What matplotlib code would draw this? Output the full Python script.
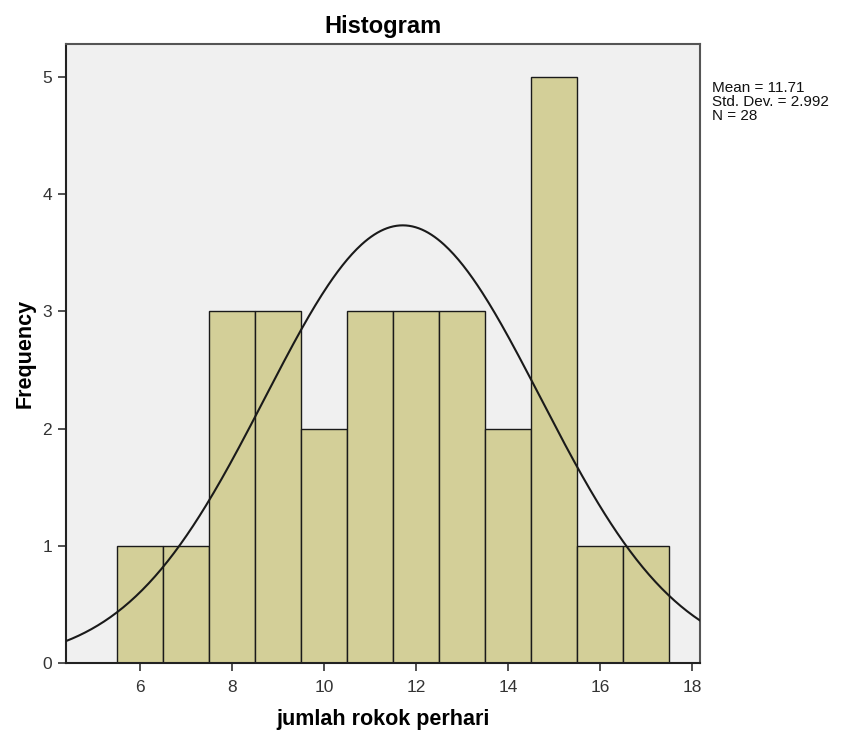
import numpy as np
import matplotlib
matplotlib.use('Agg')
import matplotlib.pyplot as plt
from matplotlib import font_manager

# jumlah rokok perhari -> frekuensi
values = [6, 7, 8, 9, 10, 11, 12, 13, 14, 15, 16, 17]
counts = [1, 1, 3, 3, 2, 3, 3, 3, 2, 5, 1, 1]
mean = 11.71
std = 2.992
n = 28
xticks = [6, 8, 10, 12, 14, 16, 18]
yticks = [0, 1, 2, 3, 4, 5]

names = {f.name for f in font_manager.fontManager.ttflist}
narrow = 'Liberation Sans Narrow' if 'Liberation Sans Narrow' in names else 'Liberation Sans'
plt.rcParams['font.family'] = ['Liberation Sans', 'DejaVu Sans']

fig = plt.figure(figsize=(8.43, 7.34), dpi=100)
ax = fig.add_axes([0.0783, 0.0967, 0.752, 0.8433])
ax.set_facecolor('#f0f0f0')

ax.bar(values, counts, width=1.0, color='#d3cf98', edgecolor='#1a1a1a', linewidth=1.0, zorder=2)

xmin, xmax = 4.39, 18.17
xs = np.linspace(xmin, xmax, 400)
ys = n * 1.0 / (std * np.sqrt(2 * np.pi)) * np.exp(-0.5 * ((xs - mean) / std) ** 2)
ax.plot(xs, ys, color='#1a1a1a', linewidth=1.5, zorder=3)

ax.set_xlim(xmin, xmax)
ax.set_ylim(0, 5.28)
ax.set_xticks(xticks)
ax.set_yticks(yticks)
ax.set_xticklabels([str(t) for t in xticks], fontfamily=narrow, fontsize=12.5, color='#333333')
ax.set_yticklabels([str(t) for t in yticks], fontfamily=narrow, fontsize=12.5, color='#333333')
ax.tick_params(direction='out', length=6, width=1.2, color='#333333', pad=4)
ax.tick_params(axis='x', pad=6)

for s in ['left', 'bottom']:
    ax.spines[s].set_linewidth(1.5)
    ax.spines[s].set_color('#222222')
for s in ['top', 'right']:
    ax.spines[s].set_linewidth(1.5)
    ax.spines[s].set_color('#555555')

ax.set_title('Histogram', fontsize=17, fontweight='bold', pad=8)
ax.set_xlabel('jumlah rokok perhari', fontsize=15.5, fontweight='bold', labelpad=10)
ax.set_ylabel('Frequency', fontsize=15.5, fontweight='bold', labelpad=5)

fig.text(712 / 843, 1 - 81 / 734, f'Mean = {mean}\nStd. Dev. = {std}\nN = {n}',
         fontsize=11, va='top', ha='left', linespacing=1.0, color='#111111')

fig.savefig('out.png', dpi=100)
